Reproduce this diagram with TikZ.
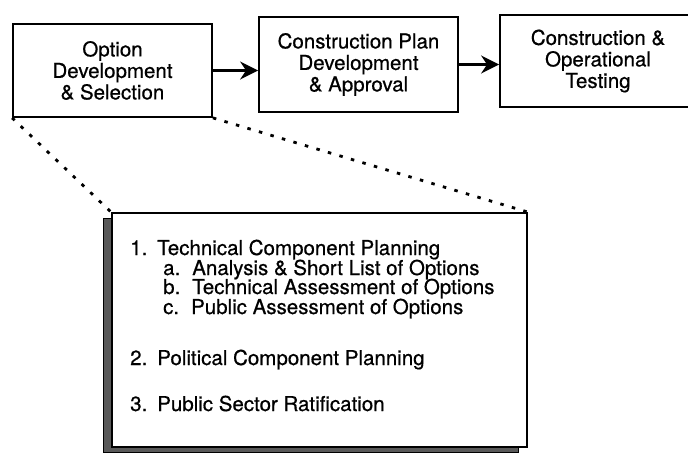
\documentclass[tikz,border=0pt]{standalone}
\usepackage{fontspec}
\setmainfont{TeX Gyre Heros}[FakeBold=0.6]
\usetikzlibrary{arrows.meta,shadows}

\begin{document}
\begin{tikzpicture}[x=1pt, y=-1pt,
    phase/.style={draw, line width=1.8pt, align=center, inner sep=0pt, font=\fontsize{20.5}{21.5}\selectfont},
    detail/.style={draw, line width=1.8pt, fill=white, minimum width=415pt, minimum height=234pt, drop shadow={shadow xshift=-9pt, shadow yshift=-5pt, opacity=1, fill=black!65, draw=black, line width=1pt}},
    item/.style={anchor=base west, inner sep=0pt, font=\fontsize{20.5}{19}\selectfont},
    flow/.style={-{Stealth[length=18pt, width=18pt, inset=6pt]}, line width=2.8pt},
    zoomline/.style={line width=2.8pt, dash pattern=on 3.5pt off 8.5pt}
  ]
  \useasboundingbox (0,0) rectangle (688,455);

  % project phases
  \node[phase, minimum width=199pt, minimum height=93pt] (option) at (112.5,70.5) {Option\\Development\\\& Selection};
  \node[phase, minimum width=199pt, minimum height=95pt] (plan) at (358.5,64.5) {Construction Plan\\Development\\\& Approval};
  \node[phase, minimum width=196pt, minimum height=92pt] (testing) at (598,61) {Construction \&\\Operational\\Testing};

  \draw[flow] (option.east) -- (option.east -| plan.west);
  \draw[flow] (plan.east) -- (plan.east -| testing.west);

  % expanded first phase
  \node[detail] (steps) at (319.5,330) {};
  \draw[zoomline] (option.south west) -- (steps.north west);
  \draw[zoomline] (option.south east) -- (steps.north east);

  \node[item] (tech) at (130,255) {1.\hspace{10pt}Technical Component Planning};
  \node[item] (techa) at (163,275) {a.\hspace{12pt}Analysis \& Short List of Options};
  \node[item] (techb) at (163,294) {b.\hspace{12pt}Technical Assessment of Options};
  \node[item] (techc) at (163,314) {c.\hspace{12pt}Public Assessment of Options};
  \node[item] (political) at (130,365) {2.\hspace{10pt}Political Component Planning};
  \node[item] (ratify) at (130,411) {3.\hspace{10pt}Public Sector Ratification};
\end{tikzpicture}
\end{document}
